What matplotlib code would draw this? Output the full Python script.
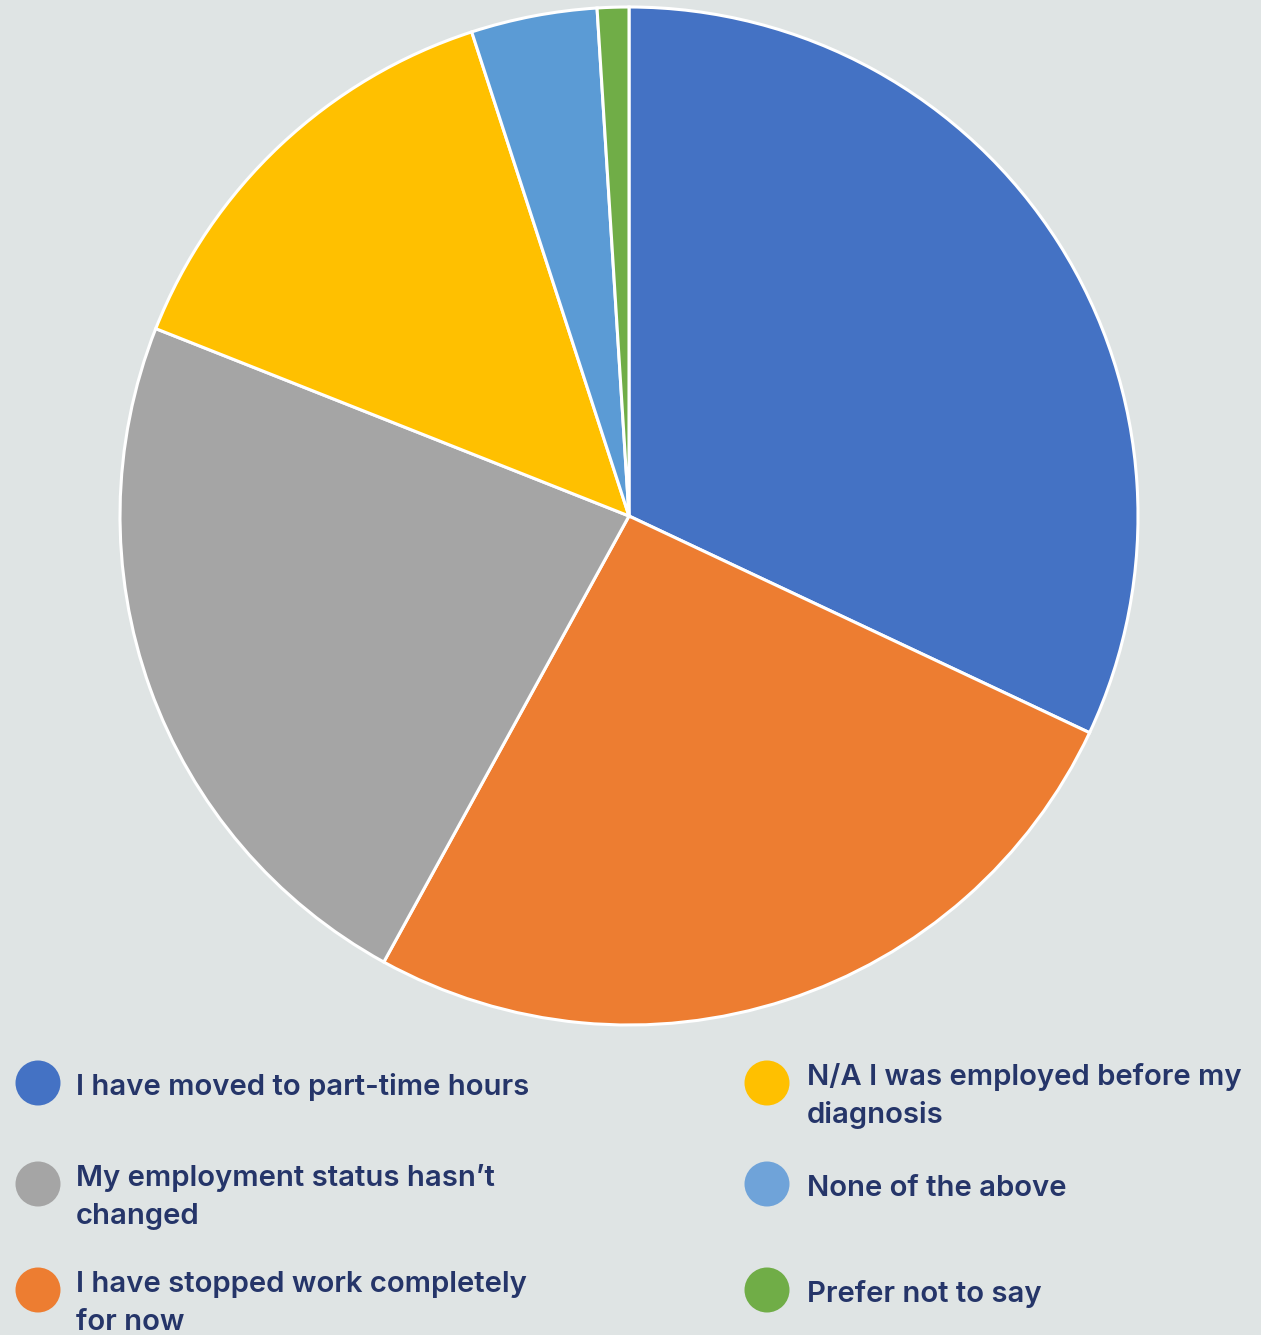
import matplotlib
matplotlib.use("Agg")
import matplotlib.pyplot as plt
from matplotlib.patches import Ellipse

# Data (shares, clockwise from 12 o'clock)
categories = [
    "I have moved to part-time hours",
    "I have stopped work completely\nfor now",
    "My employment status hasn\u2019t\nchanged",
    "N/A I was employed before my\ndiagnosis",
    "None of the above",
    "Prefer not to say",
]
values = [32, 26, 23, 14, 4, 1]
colors = ["#4472C4", "#ED7D31", "#A5A5A5", "#FFC000", "#5B9BD5", "#70AD47"]
marker_colors = ["#4472C4", "#ED7D31", "#A5A5A5", "#FFC000", "#6FA3D9", "#70AD47"]
legend_order = [0, 2, 1, 3, 4, 5]  # column-major: left column then right column

BG = "#DFE4E4"
TXT = "#253569"
W, H = 1261, 1335

fig = plt.figure(figsize=(W / 100, H / 100), dpi=100, facecolor=BG)
ax = fig.add_axes([0, 0, 1, 1])
ax.set_facecolor(BG)

ax.pie(values, colors=colors, startangle=90, counterclock=False,
       center=(629, H - 516), radius=509,
       wedgeprops=dict(edgecolor="white", linewidth=2.2))

# Legend drawn manually (pixel coordinates, y from top)
col_x = [38, 767]
text_x = [76, 807]
row_y = [1083, 1184, 1290]
for i, idx in enumerate(legend_order):
    col = i // 3
    row = i % 3
    cx, cy = col_x[col], row_y[row]
    ax.add_patch(Ellipse((cx, H - cy), 45, 45, facecolor=marker_colors[idx],
                         edgecolor="none"))
    lines = categories[idx].split("\n")
    if len(lines) == 1:
        base = cy + 12
    else:
        base = cy + 2
    for k, ln in enumerate(lines):
        ax.text(text_x[col], H - (base + k * 38), ln, fontsize=21.1,
                family=["Inter", "DejaVu Sans"], fontweight=600,
                color=TXT, va="baseline", ha="left")

ax.set_xlim(0, W)
ax.set_ylim(0, H)
ax.set_aspect("auto")
ax.axis("off")

fig.savefig("out.png", dpi=100, facecolor=BG)
